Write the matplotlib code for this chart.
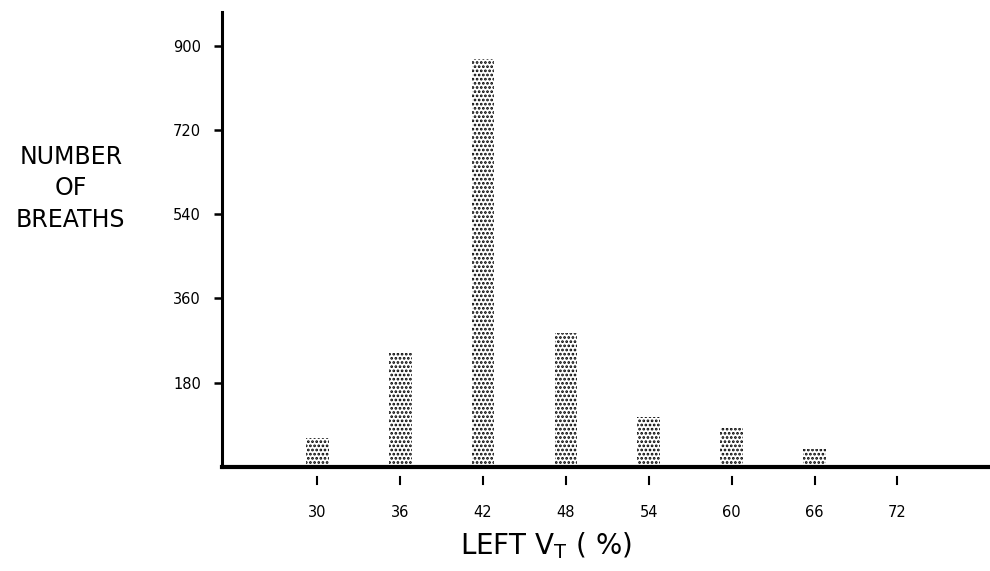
import matplotlib
matplotlib.use("Agg")
import matplotlib.pyplot as plt
import matplotlib.transforms as mtransforms

# Data
left_vt = [30, 36, 42, 48, 54, 60, 66, 72]
breaths = [62, 244, 872, 286, 107, 83, 38, 0]
x_ticks = [30, 36, 42, 48, 54, 60, 66, 72]
x_tick_labels = ["30", "36", "42", "48", "54", "60", "66", "72"]
y_ticks = [180, 360, 540, 720, 900]
y_tick_labels = ["180", "360", "540", "720", "900"]

plt.rcParams['font.family'] = ['DejaVu Sans']
plt.rcParams['hatch.linewidth'] = 1.3
plt.rcParams['hatch.color'] = 'black'

fig = plt.figure(figsize=(9.9, 5.71), dpi=100)
ax = fig.add_axes([0.2242, 0.1821, 0.7758, 0.797])

ax.bar(left_vt, breaths, width=1.65, color='white', edgecolor='black',
       linewidth=0, hatch='....')

ax.set_xlim(23.1, 78.7)
ax.set_ylim(0, 972)

for s in ['top', 'right']:
    ax.spines[s].set_visible(False)
ax.spines['left'].set_linewidth(2.2)
ax.spines['bottom'].set_linewidth(3.0)

ax.set_yticks(y_ticks)
ax.set_yticklabels(y_tick_labels, fontsize=10.5)
ax.tick_params(axis='y', direction='out', length=6, width=1.8, pad=9)

# x ticks: detached small marks below the axis
ax.set_xticks(x_ticks)
ax.set_xticklabels(x_tick_labels, fontsize=10.5)
ax.tick_params(axis='x', length=0, pad=27)
trans = mtransforms.blended_transform_factory(ax.transData, ax.transAxes)
for xv in x_ticks:
    ax.plot([xv, xv], [-0.022, -0.037], color='black', lw=1.5,
            transform=trans, clip_on=False)

ax.set_xlabel(r"LEFT V$_{\mathregular{T}}$ ( %)", fontsize=20, labelpad=8)
ax.xaxis.label.set_x(0.422)

fig.text(0.0715, 0.67, "NUMBER\nOF\nBREATHS", ha='center', va='center',
         fontsize=17, linespacing=1.4)

fig.savefig("out.png", dpi=100, facecolor='white')
